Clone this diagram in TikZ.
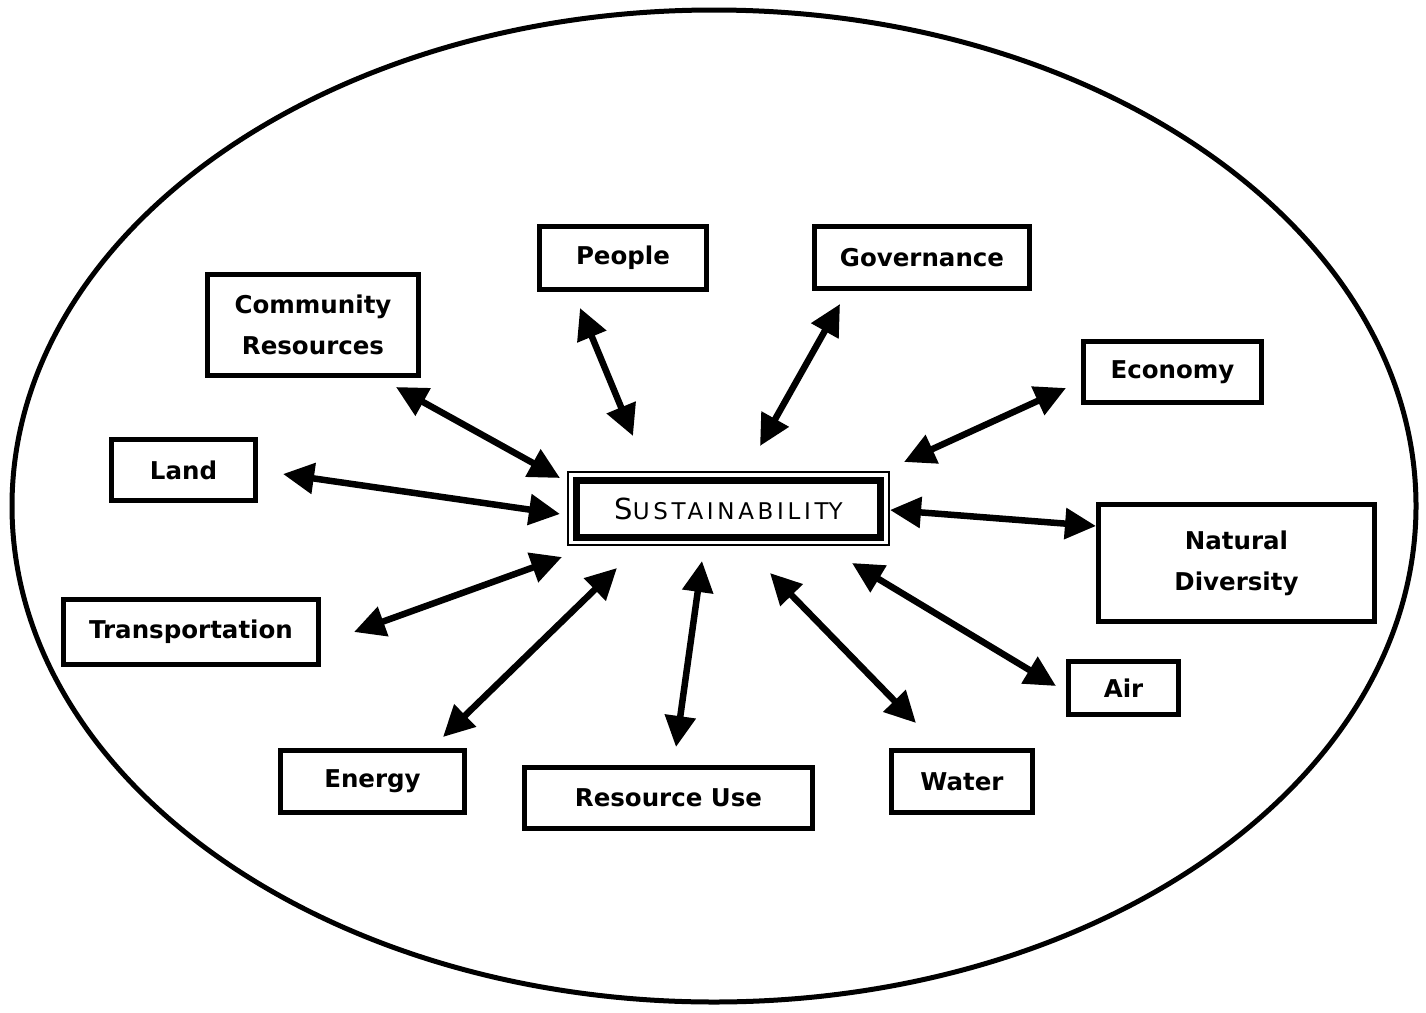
\documentclass[tikz,border=0pt]{standalone}
\usepackage{fontspec}
\setmainfont{DejaVu Sans}
\usetikzlibrary{arrows.meta}
\begin{document}
\begin{tikzpicture}[x=1pt,y=-1pt,
  box/.style={draw,line width=5pt,inner sep=0pt,outer sep=0pt,align=center,
    font=\bfseries\fontsize{24.5}{41}\selectfont},
  arr/.style={{Triangle[length=31pt,width=30pt]}-{Triangle[length=31pt,width=30pt]},line width=6.5pt}]
\useasboundingbox (0,0) rectangle (1426,1012);
% outer ellipse
\draw[line width=5pt] (714,506) ellipse [x radius=702, y radius=496];

% central concept
\node[draw,line width=7pt,inner sep=0pt,outer sep=0pt,minimum width=304pt,minimum height=57pt,
  font=\fontsize{23}{27}\selectfont] (sus) at (728.5,508.5)
  {{\fontsize{29}{32}\selectfont S}\addfontfeature{LetterSpace=16}USTAINABILIT\addfontfeature{LetterSpace=0}Y};
\draw[line width=1.8pt] ([xshift=-8.5pt,yshift=8pt]sus.north west) rectangle ([xshift=8.5pt,yshift=-8pt]sus.south east);

% surrounding factors
\node[box,minimum width=167pt,minimum height=63pt] (people) at (623,258) {People};
\node[box,minimum width=215pt,minimum height=62pt] (gov) at (922,257.5) {Governance};
\node[box,minimum width=211pt,minimum height=101pt] (comm) at (313,325) {Community\\Resources};
\node[box,minimum width=178pt,minimum height=61pt] (econ) at (1172.5,372) {Economy};
\node[box,minimum width=144pt,minimum height=61pt] (land) at (183.5,470) {Land};
\node[box,minimum width=276pt,minimum height=117pt] (nat) at (1236.5,563) {Natural\\Diversity};
\node[box,minimum width=255pt,minimum height=65pt] (trans) at (191,632) {Transportation};
\node[box,minimum width=110pt,minimum height=53pt] (air) at (1123.5,688) {Air};
\node[box,minimum width=184pt,minimum height=62pt] (energy) at (372.5,781.5) {Energy};
\node[box,minimum width=288pt,minimum height=61pt] (res) at (668.5,798) {Resource Use};
\node[box,minimum width=141pt,minimum height=62pt] (water) at (962,781.5) {Water};

% arrow end points
\coordinate (commE) at (396,387);    \coordinate (commS) at (560,478);
\coordinate (peopleE) at (580,308);  \coordinate (peopleS) at (633,436);
\coordinate (govE) at (840,304);     \coordinate (govS) at (760,446);
\coordinate (econE) at (1066,388);   \coordinate (econS) at (904,462);
\coordinate (landE) at (283,474);    \coordinate (landS) at (560,514);
\coordinate (natE) at (1096,526);    \coordinate (natS) at (890,510);
\coordinate (transE) at (354,632);   \coordinate (transS) at (562,557);
\coordinate (airE) at (1056,686);    \coordinate (airS) at (852,563);
\coordinate (energyE) at (443,737);  \coordinate (energyS) at (617,568);
\coordinate (resE) at (676,747);     \coordinate (resS) at (702,561);
\coordinate (waterE) at (916,723);   \coordinate (waterS) at (770,573);

% two-way links
\foreach \n in {comm,people,gov,econ,land,nat,trans,air,energy,res,water}
  \draw[arr] (\n E) -- (\n S);
\end{tikzpicture}
\end{document}
